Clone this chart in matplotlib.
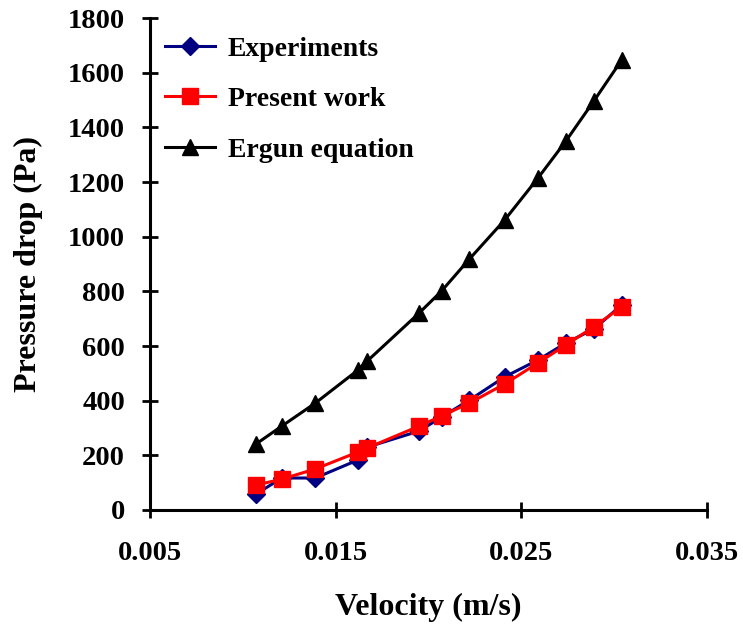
import numpy as np
import matplotlib
matplotlib.use('Agg')
import matplotlib.pyplot as plt

# velocities (m/s)
velocity = [0.0107, 0.0121, 0.0139, 0.0162, 0.0167, 0.0195, 0.0207,
            0.0222, 0.0241, 0.0259, 0.0274, 0.0289, 0.0304]
# pressure drop (Pa)
experiments = [58, 117, 117, 183, 230, 289, 340, 402, 487, 549, 611, 662, 750]
present_work = [91, 113, 150, 212, 227, 307, 344, 391, 461, 538, 604, 670, 743]
ergun = [241, 307, 391, 512, 545, 721, 801, 918, 1061, 1215, 1350, 1496, 1646]

plt.rcParams['font.family'] = ['Liberation Serif', 'DejaVu Serif']
plt.rcParams['font.weight'] = 'bold'

fig = plt.figure(figsize=(7.43, 6.28), dpi=100)
ax = fig.add_axes([0.2019, 0.1879, 0.7497, 0.7834])

ax.plot(velocity, experiments, color='#000080', marker='D', markersize=9.5,
        linewidth=2.2, label='Experiments')
ax.plot(velocity, present_work, color='#ff0000', marker='s', markersize=12,
        linewidth=2.2, label='Present work')
ax.plot(velocity, ergun, color='black', marker='^', markersize=11.5,
        linewidth=2.2, label='Ergun equation')

ax.set_xlim(0.005, 0.035)
ax.set_ylim(0, 1800)
ax.set_xticks([0.005, 0.015, 0.025, 0.035])
ax.set_xticklabels(['0.005', '0.015', '0.025', '0.035'])
ax.set_yticks(np.arange(0, 1801, 200))

for s in ['top', 'right']:
    ax.spines[s].set_visible(False)
for s in ['left', 'bottom']:
    ax.spines[s].set_linewidth(2.2)

ax.tick_params(direction='inout', length=12, width=2, labelsize=20.5)
for lbl in ax.get_xticklabels() + ax.get_yticklabels():
    lbl.set_fontweight('bold')
ax.tick_params(axis='x', pad=16.5)
ax.tick_params(axis='y', pad=12)

ax.set_xlabel('Velocity (m/s)', fontsize=23, fontweight='bold', labelpad=19)
ax.set_ylabel('Pressure drop (Pa)', fontsize=23, fontweight='bold', labelpad=18)

ax.legend(loc='upper left', frameon=False, prop={'size': 20, 'weight': 'bold'},
          labelspacing=0.9, handlelength=1.8, handletextpad=0.45,
          bbox_to_anchor=(0.027, 0.963), borderaxespad=0, borderpad=0)

fig.savefig('out.png', dpi=100)
